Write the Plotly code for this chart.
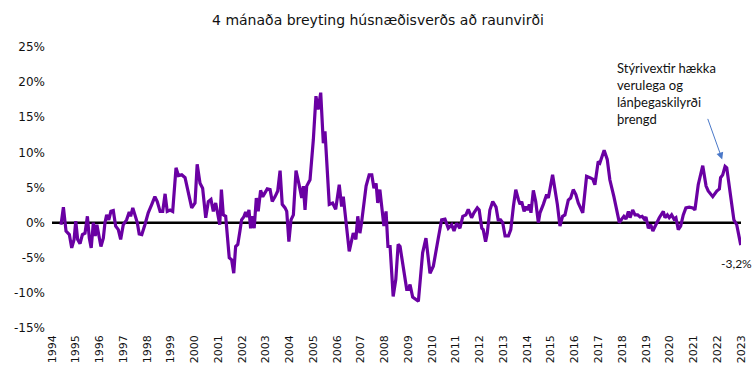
import plotly.graph_objects as go

# Decimal-year positions and 4-month real house price change (%)
years = [
    1994.38, 1994.48, 1994.59, 1994.73, 1994.83, 1994.93, 1995.00, 1995.08, 1995.18, 1995.28,
    1995.39, 1995.49, 1995.57, 1995.65, 1995.74, 1995.82, 1995.89, 1995.98, 1996.06, 1996.16,
    1996.23, 1996.30, 1996.39, 1996.48, 1996.58, 1996.68, 1996.79, 1996.89, 1997.00, 1997.14,
    1997.25, 1997.31, 1997.40, 1997.49, 1997.59, 1997.67, 1997.78, 1997.91, 1998.05, 1998.20,
    1998.33, 1998.43, 1998.55, 1998.66, 1998.76, 1998.85, 1998.97, 1999.08, 1999.22, 1999.32,
    1999.46, 1999.60, 1999.74, 1999.88, 2000.02, 2000.11, 2000.23, 2000.34, 2000.47, 2000.58,
    2000.69, 2000.79, 2000.89, 2000.97, 2001.06, 2001.13, 2001.21, 2001.31, 2001.39, 2001.46,
    2001.56, 2001.65, 2001.73, 2001.82, 2001.91, 2001.98, 2002.07, 2002.15, 2002.22, 2002.29,
    2002.36, 2002.45, 2002.51, 2002.60, 2002.68, 2002.78, 2002.87, 2002.96, 2003.06, 2003.18,
    2003.27, 2003.39, 2003.50, 2003.60, 2003.69, 2003.81, 2003.88, 2003.97, 2004.06, 2004.16,
    2004.27, 2004.40, 2004.51, 2004.58, 2004.65, 2004.72, 2004.86, 2005.00, 2005.11, 2005.20,
    2005.31, 2005.42, 2005.49, 2005.67, 2005.81, 2005.94, 2006.09, 2006.19, 2006.26, 2006.51,
    2006.68, 2006.79, 2006.87, 2006.96, 2007.03, 2007.22, 2007.35, 2007.46, 2007.55, 2007.64,
    2007.71, 2007.80, 2007.97, 2008.06, 2008.14, 2008.23, 2008.36, 2008.47, 2008.57, 2008.65,
    2008.93, 2009.00, 2009.07, 2009.18, 2009.42, 2009.60, 2009.74, 2009.91, 2010.05, 2010.26,
    2010.40, 2010.54, 2010.68, 2010.82, 2010.92, 2011.03, 2011.17, 2011.29, 2011.42, 2011.52,
    2011.66, 2011.76, 2011.90, 2011.98, 2012.09, 2012.15, 2012.25, 2012.32, 2012.43, 2012.55,
    2012.69, 2012.78, 2012.88, 2012.97, 2013.07, 2013.21, 2013.31, 2013.42, 2013.52, 2013.63,
    2013.70, 2013.77, 2013.87, 2013.95, 2014.02, 2014.09, 2014.16, 2014.26, 2014.36, 2014.47,
    2014.54, 2014.68, 2014.82, 2014.89, 2015.07, 2015.17, 2015.27, 2015.38, 2015.49, 2015.59,
    2015.73, 2015.83, 2015.94, 2016.05, 2016.15, 2016.34, 2016.50, 2016.64, 2016.76, 2016.85,
    2016.99, 2017.06, 2017.24, 2017.37, 2017.48, 2017.65, 2017.77, 2017.88, 2017.98, 2018.07,
    2018.16, 2018.26, 2018.33, 2018.44, 2018.54, 2018.65, 2018.75, 2018.84, 2018.93, 2019.00,
    2019.10, 2019.20, 2019.29, 2019.42, 2019.56, 2019.73, 2019.80, 2019.90, 2019.98, 2020.08,
    2020.18, 2020.26, 2020.36, 2020.46, 2020.57, 2020.68, 2020.82, 2020.97, 2021.06, 2021.20,
    2021.39, 2021.53, 2021.62, 2021.81, 2021.98, 2022.09, 2022.14, 2022.23, 2022.33, 2022.40,
    2022.51, 2022.61, 2022.70, 2022.82, 2022.99,
]
values = [
    -0.3, 2.2, -1.2, -1.7, -3.6, -2.4, 0.2, -2.4, -3.0, -1.7,
    -1.5, 0.9, -2.2, -3.6, 0.0, -1.9, -0.3, -2.2, -3.4, -2.2,
    0.0, 1.1, 0.4, 1.6, 1.7, -0.5, -1.0, -2.4, -0.3, 0.4,
    1.5, 0.9, 2.1, 1.1, 0.0, -1.6, -1.7, -0.3, 1.4, 2.6,
    3.7, 3.0, 1.6, 1.6, 4.1, 1.6, 1.8, 1.6, 7.8, 6.7,
    6.8, 6.4, 4.2, 2.1, 2.8, 8.3, 5.6, 4.9, 0.7, 3.0,
    3.3, 1.6, 2.8, 1.4, -0.3, 4.7, 1.1, 0.9, -1.9, -5.0,
    -5.3, -7.2, -3.4, -3.1, -1.2, 0.4, 0.8, 1.5, 0.8, 1.8,
    -0.8, 0.9, -0.8, 3.5, 1.6, 4.6, 3.7, 4.2, 4.8, 4.7,
    3.0, 3.7, 4.5, 7.4, 2.6, 2.1, 1.6, -2.7, 0.4, 1.1,
    7.4, 5.4, 3.5, 5.2, 1.8, 5.2, 6.1, 11.8, 18.0, 16.1,
    18.5, 11.3, 13.0, 2.6, 2.8, 1.9, 5.4, 2.3, 3.7, -4.1,
    -1.5, -2.4, 0.9, -1.5, 0.0, 5.2, 6.8, 6.8, 4.9, 5.6,
    2.8, 4.7, -0.5, 1.6, -3.4, -3.4, -10.5, -8.1, -3.1, -3.4,
    -9.5, -9.5, -8.8, -10.6, -11.2, -4.3, -2.2, -7.2, -6.2, -2.2,
    0.4, 0.5, -0.8, -0.3, -1.2, -0.1, -0.8, 0.9, 1.1, 1.9,
    0.7, 1.4, 2.1, 1.8, -0.8, -1.0, -2.7, -1.5, 1.8, 3.0,
    2.2, 0.4, 0.4, 0.0, -1.9, -1.9, -1.0, 2.3, 4.7, 3.3,
    2.6, 3.0, 1.6, 2.3, 1.8, 2.6, 1.4, 4.6, 3.0, 0.0,
    1.4, 2.6, 4.0, 3.5, 6.8, 4.7, 2.6, -0.5, 0.9, 1.1,
    3.2, 3.5, 4.7, 4.0, 2.8, 1.4, 6.6, 6.4, 6.2, 5.4,
    8.7, 8.5, 10.3, 9.0, 6.1, 3.7, 1.8, 0.0, 0.5, 0.9,
    0.5, 1.6, 0.7, 1.8, 1.1, 1.1, 0.8, 0.9, 0.5, 0.8,
    -0.8, -0.3, -1.2, -0.3, 0.7, 1.6, 0.7, 1.1, 0.7, 1.1,
    0.5, 0.7, -1.0, -0.5, 1.1, 2.1, 2.2, 2.1, 1.8, 5.4,
    8.1, 5.2, 4.5, 3.7, 4.5, 4.8, 6.4, 6.8, 8.0, 7.8,
    4.9, 2.1, 0.4, -0.3, -3.2,
]

tick_years = list(range(1994, 2024))
tick_labels = [str(y) for y in tick_years]
y_ticks = [-15, -10, -5, 0, 5, 10, 15, 20, 25]
y_tick_labels = ["-15%", "-10%", "-5%", "0%", "5%", "10%", "15%", "20%", "25%"]

title_text = "4 mánaða breyting húsnæðisverðs að raunvirði"
note_text = "Stýrivextir hækka<br>verulega og<br>lánþegaskilyrði<br>þrengd"
last_label = "-3,2%"

fig = go.Figure()
fig.add_trace(go.Scatter(
    x=years, y=values, mode="lines",
    line=dict(color="#6a00a3", width=3.2),
    hoverinfo="skip", showlegend=False,
))

# zero axis line across the plot
fig.add_shape(type="line", xref="x", yref="y",
              x0=tick_years[0], x1=tick_years[-1], y0=0, y1=0,
              line=dict(color="black", width=2.5), layer="below")

fig.update_layout(
    width=756, height=378,
    margin=dict(l=52, r=15, t=47, b=50, autoexpand=False),
    paper_bgcolor="white", plot_bgcolor="white",
    title=dict(text=title_text, x=0.5, xanchor="center", y=0.947, yanchor="middle",
               yref="container",
               font=dict(family="DejaVu Sans", size=14, color="#111111")),
    xaxis=dict(range=[tick_years[0], tick_years[-1]], tickmode="array",
               tickvals=tick_years, ticktext=tick_labels, tickangle=-90,
               showgrid=False, zeroline=False, showline=False, ticks="",
               automargin=False, ticklabelstandoff=4,
               tickfont=dict(family="DejaVu Sans", size=11, color="#111111")),
    yaxis=dict(range=[-15, 25], tickmode="array", tickvals=y_ticks,
               ticktext=y_tick_labels, showgrid=False, zeroline=False,
               showline=False, ticks="", automargin=False, ticklabelstandoff=6,
               tickfont=dict(family="DejaVu Sans", size=12, color="#111111")),
)

# annotation text
fig.add_annotation(x=2017.7, y=23.4, xref="x", yref="y", text=note_text,
                   showarrow=False, xanchor="left", yanchor="top", align="left",
                   font=dict(family="Lato", size=13, color="#111111"))
# arrow pointing at 2022 peak
fig.add_annotation(x=2022.21, y=9.0, xref="x", yref="y", text="",
                   showarrow=True, ax=-15, ay=-42, arrowhead=2, arrowsize=1.4,
                   arrowwidth=1, arrowcolor="#4a78c8")
# last value label
fig.add_annotation(x=years[-1], y=values[-1], xref="x", yref="y", text=last_label,
                   showarrow=False, yshift=-18, xshift=-4,
                   font=dict(family="Lato", size=12, color="#111111"))

fig.write_html("out.html", config={"displayModeBar": False},
               post_script="document.body.style.margin='0';document.body.style.overflow='hidden';")
